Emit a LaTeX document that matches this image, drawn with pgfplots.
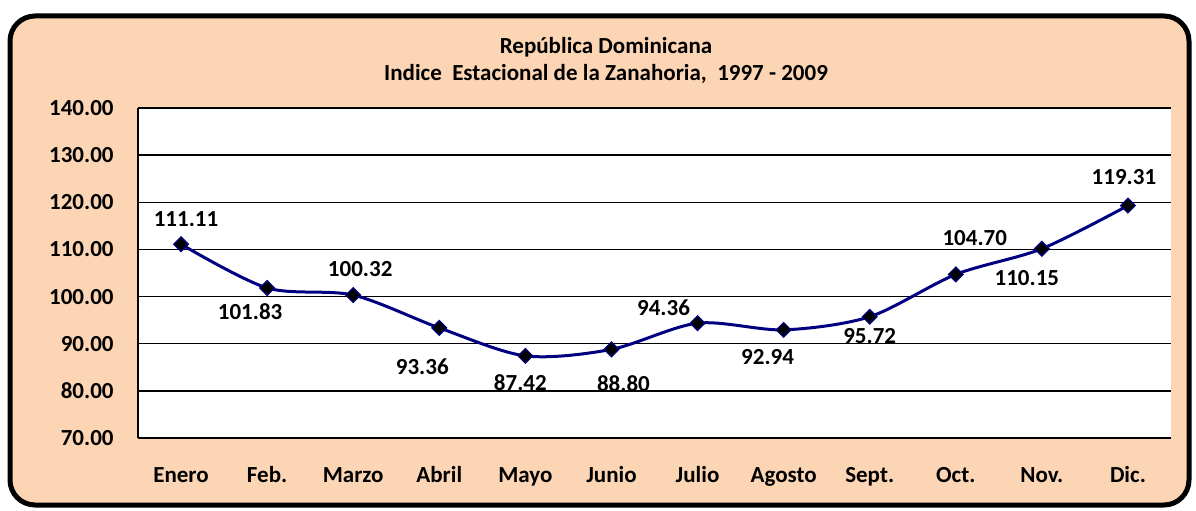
\documentclass[border=0pt]{standalone}
\usepackage{fontspec}
\setmainfont{Carlito}
\usepackage{pgfplots}
\usepackage{pgfplotstable}
\pgfplotsset{compat=1.18}
\definecolor{peach}{HTML}{FCD5B4}
\definecolor{navyline}{HTML}{000080}
\pgfplotstableread{
x y dx dy
0 111.11 2.5 12.5
1 101.83 -8.5 -12
2 100.32 3.5 13
3 93.36 -8.5 -19.5
4 87.42 -2.5 -13.5
5 88.80 6 -17
6 94.36 -17 7.5
7 92.94 -8 -13.5
8 95.72 0 -9.5
9 104.70 9.5 18
10 110.15 -7.5 -14.5
11 119.31 -2 14.5
}\datatable
\begin{document}
\begin{tikzpicture}
\useasboundingbox (0,0) rectangle (598pt,255pt);
\draw[line width=2.5pt, fill=peach, rounded corners=12.5pt] (5pt,2.5pt) rectangle (594.5pt,247pt);
\node[font=\fontsize{11.5}{13.5}\selectfont\bfseries, align=center] at (303pt,225pt) {República Dominicana\\Indice\ \ Estacional de la Zanahoria,\ \ 1997 - 2009};
\begin{axis}[
  at={(69pt,36pt)}, anchor=south west,
  scale only axis, width=516.5pt, height=165pt,
  xmin=-0.5, xmax=11.5, ymin=70, ymax=140,
  axis background/.style={fill=white},
  axis x line=bottom, axis y line=left,
  axis line style={-, line width=0.9pt, black},
  xtick=data,
  xticklabels={Enero,Feb.,Marzo,Abril,Mayo,Junio,Julio,Agosto,Sept.,Oct.,Nov.,Dic.},
  ytick={70,80,...,140},
  major tick length=0pt,
  ymajorgrids, grid style={black, line width=0.7pt},
  tick label style={font=\fontsize{11.5}{13.5}\selectfont\bfseries},
  /pgf/number format/assume math mode=true,
  yticklabel={\pgfmathprintnumber[fixed, fixed zerofill, precision=2]{\tick}},
  yticklabel style={anchor=east, inner sep=0pt, xshift=-12pt},
  xticklabel style={anchor=base, inner sep=0pt, yshift=-22pt},
  clip=false,
]
\addplot[navyline, line width=1.5pt, smooth, mark=square*,
  mark size=2.6pt, mark options={rotate=45, fill=black, draw=navyline, line width=0.6pt},
  point meta=explicit,
  visualization depends on={\thisrow{dx} \as \dx},
  visualization depends on={\thisrow{dy} \as \dy},
  nodes near coords={\pgfmathprintnumber[fixed, fixed zerofill, precision=2]{\pgfplotspointmeta}},
  nodes near coords style={anchor=center, inner sep=0pt, text=black, font=\fontsize{11.5}{13.5}\selectfont\bfseries, xshift={\dx pt}, yshift={\dy pt}},
] table[x=x, y=y, meta=y] {\datatable};
\end{axis}
\end{tikzpicture}
\end{document}
